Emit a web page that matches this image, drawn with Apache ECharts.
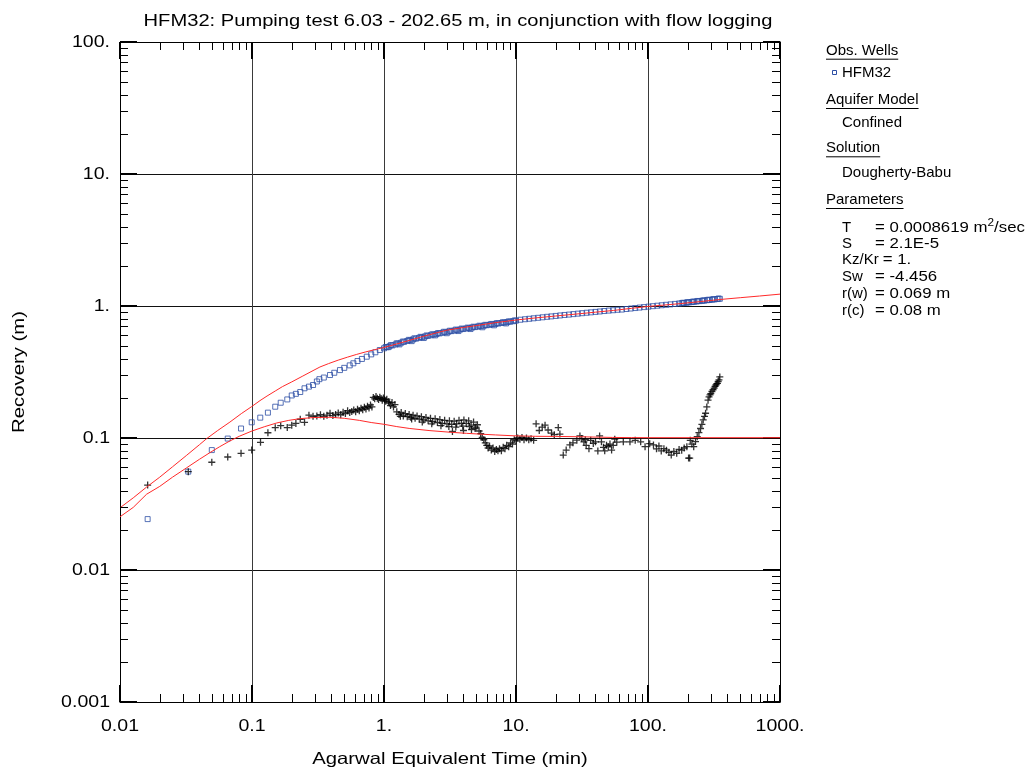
<!DOCTYPE html>
<html>
<head>
<meta charset="utf-8">
<script src="https://cdn.jsdelivr.net/npm/echarts@6/dist/echarts.min.js"></script>
<style>
html,body{margin:0;padding:0;background:#fff;}
#c{width:1030px;height:775px;}
</style>
</head>
<body>
<div id="c"></div>
<script>
// ---------- DATA ----------
var titleText = 'HFM32: Pumping test 6.03 - 202.65 m, in conjunction with flow logging';
var xAxisName = 'Agarwal Equivalent Time (min)';
var yAxisName = 'Recovery (m)';
var xTickLabels = ['0.01', '0.1', '1.', '10.', '100.', '1000.'];
var yTickLabels = ['0.001', '0.01', '0.1', '1.', '10.', '100.'];

// observed recovery (blue squares)
var obsTime = [0.0162,0.0329,0.0496,0.0655,0.0826,0.0995,0.1155,0.132,0.150,0.165,0.185,0.200,0.215,0.232,0.250,0.270,0.290,0.310,0.324,0.350,0.39,0.42,0.464,0.50,0.55,0.586,0.63,0.68,0.74,0.80,0.86,0.93,
1.0,1.05,1.1,1.16,1.22,1.28,1.35,1.42,1.5,1.58,1.66,1.75,1.84,1.94,2.04,2.15,2.26,2.38,2.5,2.64,2.78,2.92,3.08,3.24,3.41,3.59,3.78,3.98,4.19,4.41,4.64,4.89,5.15,5.42,5.7,6.0,6.32,6.65,7.0,7.37,7.76,8.17,8.6,9.05,9.53,10.0,
1.03,1.13,1.25,1.39,1.54,1.7,1.89,2.1,2.32,2.57,2.85,3.16,3.5,3.88,4.3,4.76,5.28,5.85,6.48,7.18,7.96,8.82,9.77,
1.08,1.31,1.62,2.0,2.44,2.99,3.66,4.52,5.56,6.82,8.4,
10.8,11.7,12.6,13.6,14.7,15.9,17.2,18.5,20.0,21.6,23.3,25.2,27.2,29.4,31.7,34.3,37.0,40.0,43.2,46.6,50.4,54.4,58.8,
63.5,68.6,74.1,80,86.4,93.3,100.8,108.9,117.6,127,137,148,160,172,
180,188,196,205,214,224,234,245,256,268,280,293,306,320,335,350,
184,200,219,239,262,286,313,342];
var obsRecovery = [0.0243,0.0556,0.081,0.099,0.118,0.1315,0.1426,0.1556,0.1726,0.185,0.196,0.21,0.216,0.223,0.238,0.245,0.252,0.268,0.279,0.287,0.30,0.312,0.327,0.34,0.355,0.368,0.383,0.397,0.413,0.43,0.446,0.464,
0.478,0.487,0.495,0.503,0.511,0.519,0.527,0.535,0.543,0.551,0.558,0.566,0.573,0.580,0.587,0.594,0.600,0.607,0.613,0.620,0.627,0.633,0.639,0.645,0.651,0.657,0.663,0.669,0.675,0.681,0.686,0.692,0.698,0.703,0.709,0.715,0.72,0.726,0.732,0.737,0.743,0.749,0.755,0.761,0.767,0.775,
0.489,0.506,0.522,0.538,0.554,0.569,0.584,0.598,0.611,0.624,0.638,0.65,0.663,0.675,0.686,0.697,0.709,0.72,0.731,0.742,0.754,0.765,0.777,
0.488,0.512,0.542,0.572,0.599,0.622,0.646,0.669,0.69,0.714,0.738,
0.787,0.794,0.800,0.807,0.814,0.821,0.828,0.834,0.841,0.848,0.855,0.861,0.868,0.875,0.882,0.889,0.895,0.902,0.909,0.916,0.923,0.929,0.936,
0.94,0.949,0.957,0.965,0.973,0.981,0.989,0.997,1.005,1.013,1.021,1.029,1.037,1.045,
1.05,1.055,1.06,1.066,1.071,1.077,1.083,1.089,1.094,1.1,1.106,1.112,1.117,1.123,1.129,1.134,
1.058,1.069,1.08,1.092,1.103,1.115,1.127,1.139];

// derivative of recovery (black crosses)
var derivTime = [0.0162,0.0329,0.0496,0.0655,0.0826,0.0995,0.116,0.132,0.150,0.165,0.185,0.200,0.215,0.232,0.250,0.270,
0.29,0.31,0.33,0.35,0.37,0.39,0.41,0.43,0.45,0.47,0.49,0.51,0.53,0.55,0.57,0.59,0.61,0.63,0.65,0.67,0.69,0.71,0.73,0.75,0.77,0.79,0.81,
0.83,0.85,0.87,0.89,0.91,0.93,0.95,0.97,0.99,1.01,1.03,1.05,1.08,1.1,1.12,1.15,1.18,1.21,
1.25,1.3,1.35,1.4,1.45,1.5,1.55,1.6,1.66,1.72,1.78,1.85,1.92,2.0,2.08,2.16,2.25,2.34,2.44,2.54,2.65,2.76,2.88,3.0,3.13,3.26,3.3,3.4,3.55,3.7,3.86,4.0,4.03,4.2,4.38,4.57,4.6,4.77,4.97,5.1,5.25,5.4,5.55,5.7,5.85,6.0,6.15,6.3,6.5,6.7,6.9,7.1,7.3,7.5,7.75,8.0,8.25,8.5,8.8,9.1,9.4,9.7,10.0,10.3,10.7,11.1,11.5,12.0,12.5,13.0,13.6,
1.33,1.62,1.95,2.3,2.7,3.1,3.5,3.95,4.45,4.9,
14.2,15.0,15.8,16.6,17.5,18.6,19.5,20.9,21.5,
22.8,24,25.6,27,28.9,30.5,31.5,32.7,33.5,34,35.7,36.8,38.5,40,41.7,43,44.4,46,47,48.5,50,51.5,53,54.5,56,58,
65,73,80,88,95,103,110,116,121,126,132,138,144,150,157,165,172,180,188,197,203,207,209,215,222,229,236,243,250,256,262,268,273,279,285,290,295,299,305,311,317,322,327,331,336,340,345,350];
var derivValue = [0.044,0.0556,0.0655,0.0718,0.0766,0.081,0.0927,0.1096,0.1197,0.124,0.120,0.125,0.129,0.1387,0.1315,0.149,
0.146,0.147,0.150,0.146,0.149,0.154,0.148,0.151,0.155,0.150,0.157,0.153,0.161,0.156,0.159,0.163,0.158,0.165,0.161,0.168,0.164,0.171,0.166,0.174,0.169,0.178,0.172,
0.203,0.198,0.206,0.200,0.196,0.204,0.199,0.193,0.201,0.195,0.19,0.197,0.188,0.184,0.176,0.186,0.172,0.179,
0.158,0.151,0.156,0.147,0.153,0.145,0.151,0.143,0.149,0.141,0.147,0.139,0.145,0.137,0.143,0.135,0.141,0.133,0.140,0.131,0.138,0.129,0.136,0.128,0.135,0.127,0.112,0.134,0.128,0.136,0.129,0.114,0.137,0.129,0.135,0.125,0.116,0.132,0.121,0.126,0.113,0.108,0.101,0.097,0.092,0.088,0.084,0.087,0.081,0.084,0.079,0.082,0.080,0.083,0.080,0.085,0.083,0.088,0.086,0.092,0.090,0.097,0.095,0.100,0.098,0.101,0.097,0.1,0.097,0.0985,0.096,
0.146,0.139,0.132,0.128,0.124,0.122,0.121,0.123,0.122,0.118,
0.128,0.114,0.121,0.125,0.115,0.109,0.106,0.12,0.107,
0.0743,0.081,0.0886,0.092,0.0962,0.1037,0.099,0.0935,0.097,0.088,0.083,0.096,0.091,0.0935,0.0798,0.1037,0.0935,0.085,0.080,0.088,0.086,0.09,0.081,0.088,0.098,0.093,
0.0935,0.0935,0.096,0.0935,0.086,0.0905,0.0886,0.0828,0.087,0.0798,0.083,0.0808,0.078,0.0743,0.079,0.0766,0.082,0.0808,0.084,0.086,0.0705,0.0705,0.096,0.09,0.086,0.094,0.1024,0.11,0.118,0.127,0.137,0.146,0.154,0.172,0.1936,0.205,0.212,0.217,0.225,0.232,0.239,0.246,0.252,0.257,0.259,0.268,0.276,0.29];

// Dougherty-Babu model: recovery and derivative (red curves)
var modelTime = [0.01,0.0126,0.0159,0.02,0.025,0.032,0.04,0.0454,0.055,0.068,0.083,0.0995,0.115,0.13,0.15,0.17,0.2,0.24,0.28,0.327,0.38,0.45,0.53,0.621,0.72,0.85,1.0,1.25,1.5,2.0,2.5,2.98,4.0,5.0,7.0,10,14,20,30,40,54.6,75,98,130,174.7,250,351,500,700,1000];
var modelRecovery = [0.0296,0.0352,0.0425,0.0505,0.0605,0.074,0.089,0.099,0.114,0.132,0.153,0.173,0.192,0.208,0.227,0.245,0.266,0.293,0.318,0.345,0.366,0.389,0.41,0.43,0.448,0.467,0.485,0.516,0.543,0.59,0.626,0.655,0.688,0.71,0.748,0.783,0.812,0.84,0.873,0.898,0.925,0.96,0.99,1.015,1.042,1.08,1.12,1.156,1.19,1.23];
var modelDerivTime = [0.01,0.0126,0.0159,0.02,0.025,0.032,0.04,0.048,0.057,0.068,0.08,0.1,0.125,0.154,0.19,0.23,0.29,0.39,0.5,0.65,0.8,1.0,1.25,1.57,2.23,3.2,4.2,5.34,7.0,9.5,14,20,30.5,42,54,75,100,1000];
var modelDeriv = [0.0253,0.0298,0.0375,0.043,0.0505,0.0595,0.069,0.0775,0.086,0.095,0.103,0.113,0.122,0.13,0.136,0.14,0.1428,0.1436,0.141,0.136,0.131,0.127,0.122,0.118,0.1137,0.1105,0.1085,0.107,0.1055,0.104,0.103,0.1028,0.1022,0.1015,0.101,0.1007,0.1006,0.1006];

var legendWell = 'HFM32';
var aquiferModel = 'Confined';
var solutionName = 'Dougherty-Babu';
var paramNames = ['T', 'S', 'Kz/Kr', 'Sw', 'r(w)', 'r(c)'];
var paramValues = ['= 0.0008619 m{sup|2}/sec', '= 2.1E-5', '= 1.', '= -4.456', '= 0.069 m', '= 0.08 m'];

// ---------- CHART ----------
function zip(a, b) { var r = []; for (var i = 0; i < a.length; i++) r.push([a[i], b[i]]); return r; }
var FONT = '"Liberation Sans", Arial, Helvetica, sans-serif';
var X_MIN = 0.01, X_MAX = 1000, Y_MIN = 0.001, Y_MAX = 100;
var AXIS_FS = 16.3, AXIS_SX = 1.2;
var NAME_FS = 16.5, NAME_SX = 1.23;

function minorTicks(lo, hi) {
  var out = [];
  for (var e = Math.round(Math.log10(lo)); e < Math.round(Math.log10(hi)); e++) {
    for (var m = 2; m <= 9; m++) out.push(m * Math.pow(10, e));
  }
  return out;
}
var xMinor = minorTicks(X_MIN, X_MAX).map(function (v) { return [v, 1]; });
var yMinor = minorTicks(Y_MIN, Y_MAX).map(function (v) { return [1, v]; });
var xMajor = xTickLabels.map(function (s, i) { return [X_MIN * Math.pow(10, i), 1, i]; });
var yMajor = yTickLabels.map(function (s, i) { return [1, Y_MIN * Math.pow(10, i), i]; });

var measureCtx = document.createElement('canvas').getContext('2d');
function textWidth(t, font) { measureCtx.font = font; return measureCtx.measureText(t).width; }

var chart = echarts.init(document.getElementById('c'), null, { renderer: 'canvas' });

var axisCommon = {
  type: 'log', logBase: 10, splitNumber: 5,
  axisLine: { show: true, onZero: false, lineStyle: { color: '#000', width: 1 } },
  axisTick: { show: true, inside: true, length: 17, lineStyle: { color: '#000', width: 2 } },
  axisLabel: { show: false },
  minorTick: { show: false }
};

var MINOR_LEN = 8;
var graphics = [];
// title and axis names
graphics.push({ type: 'text', x: 458, y: 21, scaleX: 1.22, silent: true,
  style: { text: titleText, font: '16.5px ' + FONT, fill: '#000', align: 'center', verticalAlign: 'middle' } });
graphics.push({ type: 'text', x: 450, y: 759, scaleX: NAME_SX, silent: true,
  style: { text: xAxisName, font: NAME_FS + 'px ' + FONT, fill: '#000', align: 'center', verticalAlign: 'middle' } });
graphics.push({ type: 'text', x: 19, y: 372, rotation: Math.PI / 2, scaleX: NAME_SX, silent: true,
  style: { text: yAxisName, font: NAME_FS + 'px ' + FONT, fill: '#000', align: 'center', verticalAlign: 'middle' } });

// legend panel
var LX = 826, LX2 = 842, LX3 = 875;
var LFS = 15;
var LFONT = LFS + 'px ' + FONT;
function header(text, y) {
  graphics.push({ type: 'text', x: LX, y: y, silent: true, style: { text: text, font: LFONT, fill: '#000', verticalAlign: 'middle' } });
  var w = textWidth(text, LFONT);
  graphics.push({ type: 'line', silent: true, shape: { x1: LX, y1: y + 8.5, x2: LX + w, y2: y + 8.5 }, style: { stroke: '#000', lineWidth: 1 } });
}
header('Obs. Wells', 50.7);
header('Aquifer Model', 100);
header('Solution', 148.3);
header('Parameters', 200);
graphics.push({ type: 'rect', silent: true, shape: { x: 832.5, y: 70.5, width: 4, height: 4 }, style: { fill: 'none', stroke: '#2d4fa5', lineWidth: 1 } });
graphics.push({ type: 'text', x: LX2, y: 73.3, silent: true, style: { text: legendWell, font: LFONT, fill: '#000', verticalAlign: 'middle' } });
graphics.push({ type: 'text', x: LX2, y: 122.7, silent: true, style: { text: aquiferModel, font: LFONT, fill: '#000', verticalAlign: 'middle' } });
graphics.push({ type: 'text', x: LX2, y: 173.3, silent: true, style: { text: solutionName, font: LFONT, fill: '#000', verticalAlign: 'middle' } });
var paramY = [228, 244, 260.3, 276.7, 294, 311];
for (var i = 0; i < paramNames.length; i++) {
  var nameFont = LFONT;
  var nw = textWidth(paramNames[i], nameFont);
  var vx = Math.max(LX3, LX2 + nw + 4);
  graphics.push({ type: 'text', x: LX2, y: paramY[i], silent: true, style: { text: paramNames[i], font: nameFont, fill: '#000', verticalAlign: 'middle' } });
  graphics.push({ type: 'text', x: vx, y: paramY[i], scaleX: 1.12, silent: true, style: {
    text: paramValues[i], font: LFONT, fill: '#000', verticalAlign: 'middle',
    rich: { sup: { fontSize: 10.5, fontFamily: FONT, padding: [0, 0, 9, 0], fill: '#000' } }
  } });
}

var option = {
  backgroundColor: '#fff',
  animation: false,
  grid: { left: 120, right: 250, top: 42, bottom: 73, containLabel: false },
  xAxis: [
    Object.assign({}, axisCommon, {
      position: 'bottom', min: X_MIN, max: X_MAX,
      splitLine: { show: true, lineStyle: { color: '#3a3a3a', width: 1 } }
    }),
    Object.assign({}, axisCommon, { position: 'top', min: X_MIN, max: X_MAX, splitLine: { show: false } })
  ],
  yAxis: [
    Object.assign({}, axisCommon, {
      position: 'left', min: Y_MIN, max: Y_MAX,
      splitLine: { show: true, lineStyle: { color: '#111', width: 1 } }
    }),
    Object.assign({}, axisCommon, { position: 'right', min: Y_MIN, max: Y_MAX, splitLine: { show: false } })
  ],
  graphic: graphics,
  series: [
    {
      type: 'custom', name: 'xMinor', xAxisIndex: 0, yAxisIndex: 0, silent: true, clip: false, z: 5,
      data: xMinor,
      renderItem: function (params, api) {
        var b = api.coord([api.value(0), Y_MIN]);
        var t = api.coord([api.value(0), Y_MAX]);
        var x = Math.round(b[0]) + 0.5;
        return { type: 'group', children: [
          { type: 'line', shape: { x1: x, y1: b[1], x2: x, y2: b[1] - MINOR_LEN }, style: { stroke: '#000', lineWidth: 1 } },
          { type: 'line', shape: { x1: x, y1: t[1], x2: x, y2: t[1] + MINOR_LEN }, style: { stroke: '#000', lineWidth: 1 } }
        ] };
      }
    },
    {
      type: 'custom', name: 'yMinor', xAxisIndex: 0, yAxisIndex: 0, silent: true, clip: false, z: 5,
      data: yMinor,
      renderItem: function (params, api) {
        var l = api.coord([X_MIN, api.value(1)]);
        var r = api.coord([X_MAX, api.value(1)]);
        var y = Math.round(l[1]) + 0.5;
        return { type: 'group', children: [
          { type: 'line', shape: { x1: l[0], y1: y, x2: l[0] + MINOR_LEN, y2: y }, style: { stroke: '#000', lineWidth: 1 } },
          { type: 'line', shape: { x1: r[0], y1: y, x2: r[0] - MINOR_LEN, y2: y }, style: { stroke: '#000', lineWidth: 1 } }
        ] };
      }
    },
    {
      type: 'custom', name: 'xLabels', xAxisIndex: 0, yAxisIndex: 0, silent: true, clip: false, z: 5,
      data: xMajor,
      renderItem: function (params, api) {
        var p = api.coord([api.value(0), Y_MIN]);
        return { type: 'text', x: p[0], y: p[1] + 25, scaleX: AXIS_SX,
          style: { text: xTickLabels[api.value(2)], font: AXIS_FS + 'px ' + FONT, fill: '#000', align: 'center', verticalAlign: 'middle' } };
      }
    },
    {
      type: 'custom', name: 'yLabels', xAxisIndex: 0, yAxisIndex: 0, silent: true, clip: false, z: 5,
      data: yMajor,
      renderItem: function (params, api) {
        var p = api.coord([X_MIN, api.value(1)]);
        return { type: 'text', x: p[0] - 10, y: p[1] + 1, scaleX: AXIS_SX,
          style: { text: yTickLabels[api.value(2)], font: AXIS_FS + 'px ' + FONT, fill: '#000', align: 'right', verticalAlign: 'middle' } };
      }
    },
    {
      type: 'scatter', name: 'HFM32', xAxisIndex: 0, yAxisIndex: 0, z: 3,
      data: zip(obsTime, obsRecovery),
      symbol: 'rect', symbolSize: 5,
      itemStyle: { color: 'rgba(0,0,0,0)', borderColor: '#2d4fa5', borderWidth: 1 }
    },
    {
      type: 'scatter', name: 'derivative', xAxisIndex: 0, yAxisIndex: 0, z: 3,
      data: zip(derivTime, derivValue),
      symbol: 'path://M0,3.5L7,3.5M3.5,0L3.5,7', symbolSize: 7,
      itemStyle: { color: 'rgba(0,0,0,0)', borderColor: '#000', borderWidth: 1.3 }
    },
    {
      type: 'line', name: 'model', xAxisIndex: 0, yAxisIndex: 0, z: 4,
      data: zip(modelTime, modelRecovery), showSymbol: false, smooth: false,
      lineStyle: { color: '#ff2a2a', width: 1 }
    },
    {
      type: 'line', name: 'modelDeriv', xAxisIndex: 0, yAxisIndex: 0, z: 4,
      data: zip(modelDerivTime, modelDeriv), showSymbol: false, smooth: false,
      lineStyle: { color: '#ff2a2a', width: 1 }
    }
  ]
};
chart.setOption(option);
</script>
</body>
</html>
